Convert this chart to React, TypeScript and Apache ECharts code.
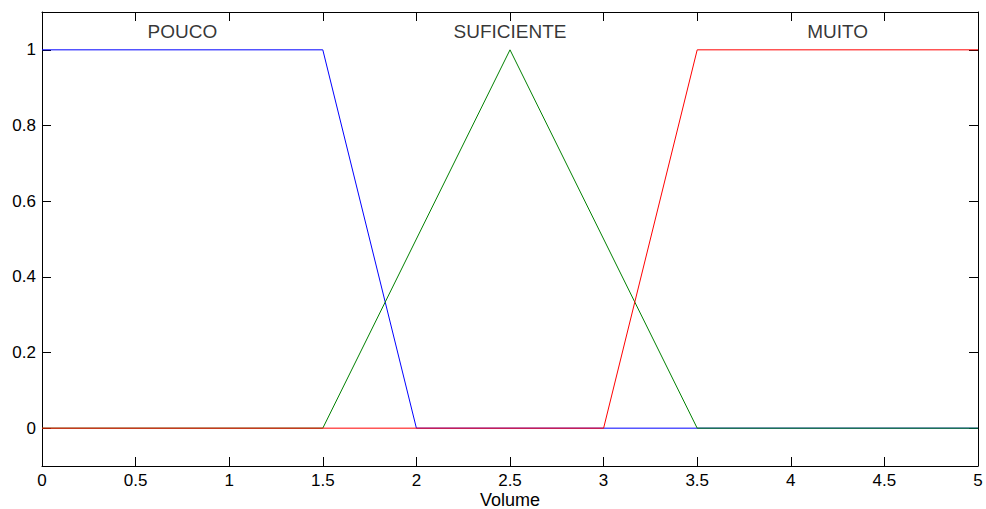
import React, { useEffect, useRef } from "react";
import * as echarts from "echarts";

// Membership functions of the "Volume" variable (breakpoints x, degree y)
const poucoX = [0, 1.5, 2, 5];
const poucoY = [1, 1, 0, 0];
const suficienteX = [0, 1.5, 2.5, 3.5, 5];
const suficienteY = [0, 0, 1, 0, 0];
const muitoX = [0, 3, 3.5, 5];
const muitoY = [0, 0, 1, 1];

// Set names and where their captions sit
const setNames = ["POUCO", "SUFICIENTE", "MUITO"];
const nameX = [0.75, 2.5, 4.25];
const nameY = [1.048, 1.048, 1.048];

const yTicks = [0, 0.2, 0.4, 0.6, 0.8, 1];

const FONT = "'Liberation Sans', Arial, Helvetica, sans-serif";

const pairs = (xs: number[], ys: number[]) => xs.map((x, i) => [x, ys[i]]);

export default function App() {
  const ref = useRef<HTMLDivElement>(null);

  useEffect(() => {
    document.body.style.margin = "0";
    const chart = echarts.init(ref.current!, null, { renderer: "svg" });
    const axisLine = { show: true, onZero: false, lineStyle: { color: "#000", width: 1 } };
    const tick = { show: true, inside: true, length: 9, lineStyle: { color: "#000", width: 1 } };
    chart.setOption({
      animation: false,
      backgroundColor: "#fff",
      textStyle: { fontFamily: FONT },
      grid: {
        left: 42,
        right: 8,
        top: 12,
        bottom: 43,
        containLabel: false,
        outerBoundsMode: "none",
      },
      xAxis: [
        {
          type: "value",
          min: 0,
          max: 5,
          interval: 0.5,
          position: "bottom",
          name: "Volume",
          nameLocation: "middle",
          nameGap: 25,
          nameMoveOverlap: false,
          nameTextStyle: { color: "#000", fontSize: 18, fontFamily: FONT, lineHeight: 18 },
          axisLine,
          axisTick: tick,
          splitLine: { show: false },
          axisLabel: { color: "#000", fontSize: 17, fontFamily: FONT, margin: 6 },
        },
        {
          type: "value",
          min: 0,
          max: 5,
          interval: 0.5,
          position: "top",
          axisLine,
          axisTick: tick,
          splitLine: { show: false },
          axisLabel: { show: false },
        },
      ],
      yAxis: [
        {
          type: "value",
          min: -0.1,
          max: 1.1,
          position: "left",
          axisLine,
          axisTick: { ...tick, customValues: yTicks },
          splitLine: { show: false },
          axisLabel: {
            color: "#000",
            fontSize: 17,
            fontFamily: FONT,
            margin: 6,
            customValues: yTicks,
          },
        },
        {
          type: "value",
          min: -0.1,
          max: 1.1,
          position: "right",
          axisLine,
          axisTick: { ...tick, customValues: yTicks },
          splitLine: { show: false },
          axisLabel: { show: false },
        },
      ],
      series: [
        {
          type: "line",
          name: "POUCO",
          data: pairs(poucoX, poucoY),
          symbol: "none",
          lineStyle: { color: "#0000ff", width: 1 },
        },
        {
          type: "line",
          name: "SUFICIENTE",
          data: pairs(suficienteX, suficienteY),
          symbol: "none",
          lineStyle: { color: "#008000", width: 1 },
        },
        {
          type: "line",
          name: "MUITO",
          data: pairs(muitoX, muitoY),
          symbol: "none",
          lineStyle: { color: "#ff0000", width: 1 },
        },
        {
          type: "scatter",
          symbolSize: 0,
          data: setNames.map((n, i) => ({ name: n, value: [nameX[i], nameY[i]] })),
          label: {
            show: true,
            position: "inside",
            formatter: (p: any) => p.name,
            color: "#000",
            fontSize: 19,
            fontFamily: FONT,
          },
          silent: true,
        },
      ],
    });
    return () => chart.dispose();
  }, []);

  return <div ref={ref} style={{ width: 986, height: 509 }} />;
}
